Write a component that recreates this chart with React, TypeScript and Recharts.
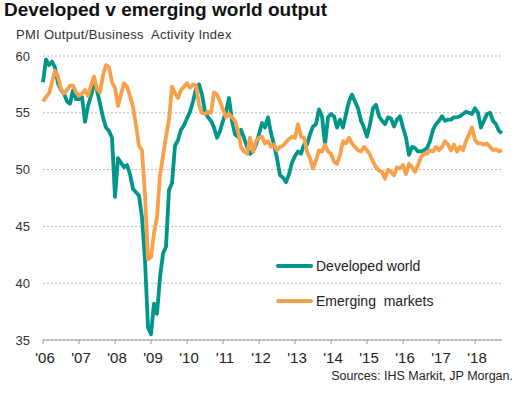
import { LineChart, Line, XAxis, YAxis, CartesianGrid } from 'recharts';

// monthly readings, Jan 2006 .. Oct 2018
const developedWorld = [
  57.7, 59.7, 59.2, 59.5, 59.0, 57.6, 57.0, 56.7, 56.0, 55.8, 57.0, 56.2,
  56.2, 56.4, 54.2, 55.6, 56.5, 57.6, 57.0, 55.8, 54.6, 53.7, 53.4, 52.8,
  47.6, 51.0, 50.6, 50.2, 50.4, 49.6, 48.3, 48.0, 47.7, 45.8, 42.0, 36.1,
  35.5, 38.2, 37.3, 40.5, 42.6, 43.2, 48.2, 48.8, 52.1, 52.6, 53.5, 53.9,
  54.5, 55.1, 56.0, 57.1, 57.5, 56.6, 55.1, 54.6, 54.3, 53.7, 52.8, 53.4,
  54.3, 55.1, 56.3, 54.3, 53.1, 52.9, 53.5, 52.8, 52.0, 51.4, 51.6, 52.2,
  53.1, 54.1, 53.7, 54.6, 53.2, 52.2, 51.0, 49.5, 49.3, 48.9, 49.6, 50.6,
  51.2, 51.6, 51.4, 52.2, 52.2, 53.1, 53.8, 54.0, 55.3, 54.7, 52.2, 54.6,
  54.9, 54.7, 53.7, 54.4, 53.7, 54.9, 56.0, 56.6, 56.0, 55.4, 54.3, 53.7,
  52.9, 54.0, 55.4, 55.7, 54.7, 54.3, 54.0, 54.6, 54.5, 53.8, 54.4, 54.7,
  53.7, 52.8, 51.3, 52.0, 51.9, 51.6, 51.6, 51.7, 51.9, 52.5, 53.5, 54.0,
  54.3, 54.7, 54.3, 54.4, 54.4, 54.6, 54.6, 54.7, 54.9, 55.1, 55.0, 54.9,
  55.4, 55.0, 53.7, 54.3, 54.9, 55.0, 54.3, 54.0, 53.4, 53.2,
];

const emergingMarkets = [
  56.0, 56.4, 56.7, 57.7, 58.7, 58.2, 57.1, 56.7, 57.0, 57.4, 57.4, 56.8,
  56.5, 56.7, 57.0, 56.5, 57.4, 58.2, 57.1, 56.8, 58.3, 59.2, 59.0, 57.7,
  57.2, 55.6, 56.6, 57.6, 57.3, 56.5, 55.5, 53.9, 52.1, 51.7, 47.7, 42.1,
  42.3, 44.4, 45.8, 49.5, 51.2, 52.9, 54.4, 57.3, 56.7, 56.3, 57.0, 57.3,
  57.6, 57.2, 57.5, 57.4, 55.7, 55.0, 54.9, 55.1, 55.0, 56.8, 56.6, 56.0,
  55.3, 54.6, 54.9, 54.6, 54.3, 53.4, 52.0, 51.6, 51.4, 52.8, 51.6, 52.5,
  52.8, 52.9, 52.3, 52.5, 52.0, 52.2, 51.7, 52.0, 52.1, 52.4, 52.7, 52.9,
  52.8, 54.0, 52.9, 52.8, 51.6, 51.0, 50.1, 50.8, 51.7, 51.6, 52.2, 51.6,
  51.4, 50.7, 50.5, 51.3, 52.5, 52.3, 52.8, 52.3, 52.0, 51.7, 51.6, 52.0,
  51.7, 51.3, 50.7, 50.2, 49.9, 49.8, 49.2, 50.0, 49.8, 49.5, 50.2, 50.1,
  50.4, 49.6, 50.5, 50.2, 49.8, 50.4, 51.1, 51.4, 51.4, 51.7, 51.6, 52.0,
  51.7, 52.0, 52.5, 52.2, 51.7, 52.2, 51.6, 52.0, 51.7, 52.5, 53.1, 53.7,
  52.6, 52.3, 52.3, 52.2, 52.3, 52.0, 51.7, 51.8, 51.6, 51.7,
];

const yearLabels = ["'06", "'07", "'08", "'09", "'10", "'11", "'12", "'13", "'14", "'15", "'16", "'17", "'18"];
const yTicks = [35, 40, 45, 50, 55, 60];

const TEAL = '#00968a';
const ORANGE = '#f9a04b';

const data = developedWorld.map((v, i) => ({ m: i, dev: v, em: emergingMarkets[i] }));
const xTicks = yearLabels.map((_, i) => i * 12);

const font = '"Liberation Sans", Arial, sans-serif';

export default function App() {
  return (
    <div
      style={{
        position: 'absolute',
        left: 0,
        top: 0,
        width: 526,
        height: 394,
        background: '#fff',
        fontFamily: font,
        color: '#222',
      }}
    >
      <div style={{ position: 'absolute', left: 4, top: -1, fontSize: 19, lineHeight: '22px', fontWeight: 'bold', color: '#111' }}>
        Developed v emerging world output
      </div>
      <div
        style={{
          position: 'absolute',
          left: 16,
          top: 27,
          fontSize: 13,
          lineHeight: '15px',
          letterSpacing: 0.3,
          whiteSpace: 'pre',
          color: '#333',
        }}
      >
        {'PMI Output/Business  Activity Index'}
      </div>

      <LineChart
        width={526}
        height={394}
        data={data}
        margin={{ top: 56, right: 24, bottom: 24, left: 9 }}
        style={{ position: 'absolute', left: 0, top: 0 }}
      >
        <CartesianGrid vertical={false} stroke="#b8b8b8" strokeDasharray="2 2" />
        <XAxis
          dataKey="m"
          type="number"
          domain={[0, 153]}
          ticks={xTicks}
          tickFormatter={(v: number) => yearLabels[v / 12]}
          height={30}
          stroke="#999"
          tickSize={4}
          tickMargin={8}
          tick={{ fill: '#222', fontSize: 15, fontFamily: font, dx: 2 }}
          interval={0}
        />
        <YAxis
          domain={[35, 60]}
          ticks={yTicks}
          width={34}
          axisLine={false}
          tickLine={false}
          tickSize={0}
          tickMargin={13}
          tick={{ fill: '#333', fontSize: 13, fontFamily: font }}
          allowDataOverflow
        />
        <Line
          dataKey="dev"
          stroke={TEAL}
          strokeWidth={3.8}
          dot={false}
          type="linear"
          strokeLinejoin="round"
          isAnimationActive={false}
        />
        <Line
          dataKey="em"
          stroke={ORANGE}
          strokeWidth={3.8}
          dot={false}
          type="linear"
          strokeLinejoin="round"
          isAnimationActive={false}
        />
      </LineChart>

      <div style={{ position: 'absolute', left: 276, top: 264, width: 37, height: 4, borderRadius: 2, background: TEAL }} />
      <div style={{ position: 'absolute', left: 316, top: 258, fontSize: 14, lineHeight: '16px', color: '#222' }}>
        Developed world
      </div>
      <div style={{ position: 'absolute', left: 276, top: 299, width: 37, height: 4, borderRadius: 2, background: ORANGE }} />
      <div style={{ position: 'absolute', left: 316, top: 293, fontSize: 14, lineHeight: '16px', color: '#222', whiteSpace: 'pre' }}>
        {'Emerging  markets'}
      </div>

      <div style={{ position: 'absolute', right: 13, top: 369, fontSize: 12.5, lineHeight: '14px', color: '#222' }}>
        Sources: IHS Markit, JP Morgan.
      </div>
    </div>
  );
}
